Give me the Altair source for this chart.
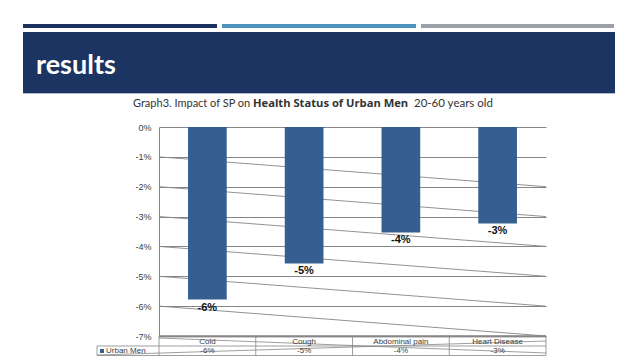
import altair as alt
import pandas as pd

# ---- data ----
categories = ["Cold", "Cough", "Abdominal pain", "Heart Disease"]
values = [-5.78, -4.57, -3.53, -3.23]
labels = ["-6%", "-5%", "-4%", "-3%"]
series_name = "Urban Men"
y_ticks = [0, -1, -2, -3, -4, -5, -6, -7]
diag_start = [-1, -2, -3, -4, -5, -6]
diag_end = [-2, -3, -4, -5, -6, -7]
slide_title = "results"
caption_parts = ["Graph3. Impact of SP on", "Health Status of Urban Men", "20-60 years old"]

W, H = 387, 209
BAR = "#365F91"
GRID = "#868686"
TXT = "#404040"

df = pd.DataFrame({"cat": categories, "value": values, "label": labels})
diag = pd.DataFrame({"a": diag_start, "b": diag_end})

xs = alt.Scale(domain=categories, paddingInner=0.6, paddingOuter=0.3)
ys = alt.Scale(domain=[-7, 0], nice=False, zero=False)
y_axis = alt.Axis(
    values=y_ticks, labelExpr="datum.value + '%'", grid=True,
    gridColor=GRID, gridWidth=1, domainColor=GRID, ticks=False,
    labelPadding=8, labelFontSize=9, labelColor=TXT,
    labelFont="Liberation Sans", title=None)

# ---- slide decorations (layout only) ----
deco = pd.DataFrame([
    {"x": -136, "x2": 58, "y": -103, "y2": -99, "c": "#1B3260"},
    {"x": 63, "x2": 257, "y": -103, "y2": -99, "c": "#4A93BC"},
    {"x": 262, "x2": 455, "y": -103, "y2": -99, "c": "#9BA1A8"},
    {"x": -136, "x2": 456, "y": -95, "y2": -34, "c": "#1C3461"},
    {"x": -136, "x2": 456, "y": -34, "y2": -33, "c": "#AEBBD0"},
    {"x": -59, "x2": -55, "y": 222, "y2": 226, "c": BAR},
])
deco_layer = alt.Chart(deco).mark_rect().encode(
    x=alt.X("x:Q", scale=None), x2="x2:Q",
    y=alt.Y("y:Q", scale=None), y2="y2:Q",
    color=alt.Color("c:N", scale=None),
)

step = W / 4
table_lines = pd.DataFrame([
    {"x": 0, "x2": W, "y": 208.5, "y2": 208.5},
    {"x": 0, "x2": W, "y": 210, "y2": 210},
    {"x": -62, "x2": W, "y": 219, "y2": 219},
    {"x": -62, "x2": W, "y": 228.5, "y2": 228.5},
    {"x": -62, "x2": -62, "y": 219, "y2": 228.5},
    {"x": 0, "x2": 0, "y": 208.5, "y2": 228.5},
    {"x": step, "x2": step, "y": 209, "y2": 228.5},
    {"x": 2 * step, "x2": 2 * step, "y": 209, "y2": 228.5},
    {"x": 3 * step, "x2": 3 * step, "y": 209, "y2": 228.5},
    {"x": W, "x2": W, "y": 209, "y2": 228.5},
    # stray diagonal strokes across the table
    {"x": -62, "x2": W, "y": 228, "y2": 214},
    {"x": 0, "x2": W, "y": 211, "y2": 226},
])
table_layer = alt.Chart(table_lines).mark_rule(color=GRID, strokeWidth=0.8).encode(
    x=alt.X("x:Q", scale=None), x2="x2:Q",
    y=alt.Y("y:Q", scale=None), y2="y2:Q",
)

diag_layer = alt.Chart(diag).mark_rule(color=GRID, strokeWidth=0.9).encode(
    x=alt.value(0), x2=alt.value(W),
    y=alt.Y("a:Q", scale=ys, axis=y_axis), y2="b:Q",
)

bars = alt.Chart(df).mark_bar(color=BAR).encode(
    x=alt.X("cat:N", scale=xs, axis=None, sort=categories),
    y=alt.Y("value:Q", scale=ys, axis=y_axis),
)

bar_labels = alt.Chart(df).mark_text(
    dy=8, baseline="middle", fontSize=11, fontWeight="bold",
    font="Liberation Sans", color="#111111",
).encode(
    x=alt.X("cat:N", scale=xs, axis=None, sort=categories),
    y=alt.Y("value:Q", scale=ys, axis=y_axis),
    text="label:N",
)

table_head = alt.Chart(df).mark_text(
    baseline="middle", fontSize=8, font="Liberation Sans", color=TXT,
).encode(
    x=alt.X("cat:N", scale=xs, axis=None, sort=categories),
    y=alt.value(214.5), text="cat:N",
)
table_vals = alt.Chart(df).mark_text(
    baseline="middle", fontSize=8, font="Liberation Sans", color=TXT,
).encode(
    x=alt.X("cat:N", scale=xs, axis=None, sort=categories),
    y=alt.value(224), text="label:N",
)

legend_text = alt.Chart(pd.DataFrame({"t": [series_name]})).mark_text(
    align="left", baseline="middle", fontSize=8, font="Liberation Sans", color=TXT,
).encode(x=alt.value(-53), y=alt.value(224), text="t:N")

title_layer = alt.Chart(pd.DataFrame({"t": [slide_title]})).mark_text(
    align="left", baseline="alphabetic", fontSize=27, fontWeight="bold",
    font="Lato", color="white",
).encode(x=alt.value(-123), y=alt.value(-53), text="t:N")

cap1 = alt.Chart(pd.DataFrame({"t": [caption_parts[0]]})).mark_text(
    align="left", baseline="alphabetic", fontSize=11, font="Lato", color="#333333",
).encode(x=alt.value(-26), y=alt.value(-20), text="t:N")
cap2 = alt.Chart(pd.DataFrame({"t": [caption_parts[1]]})).mark_text(
    align="left", baseline="alphabetic", fontSize=11.2, fontWeight="bold", font="Open Sans", color="#333333",
).encode(x=alt.value(94), y=alt.value(-20), text="t:N")
cap3 = alt.Chart(pd.DataFrame({"t": [caption_parts[2]]})).mark_text(
    align="left", baseline="alphabetic", fontSize=11.5, font="Lato", color="#333333",
).encode(x=alt.value(255), y=alt.value(-20), text="t:N")

chart = alt.layer(
    deco_layer, diag_layer, bars, bar_labels, table_layer, table_head, table_vals,
    legend_text, title_layer, cap1, cap2, cap3,
).properties(
    width=W, height=H,
    padding={"left": 151, "top": 119, "right": 84, "bottom": 21},
    autosize=alt.AutoSizeParams(type="none"),
    background="white",
).configure_view(stroke=None)

chart.save("out.html", embed_options={"renderer": "svg", "actions": False})
